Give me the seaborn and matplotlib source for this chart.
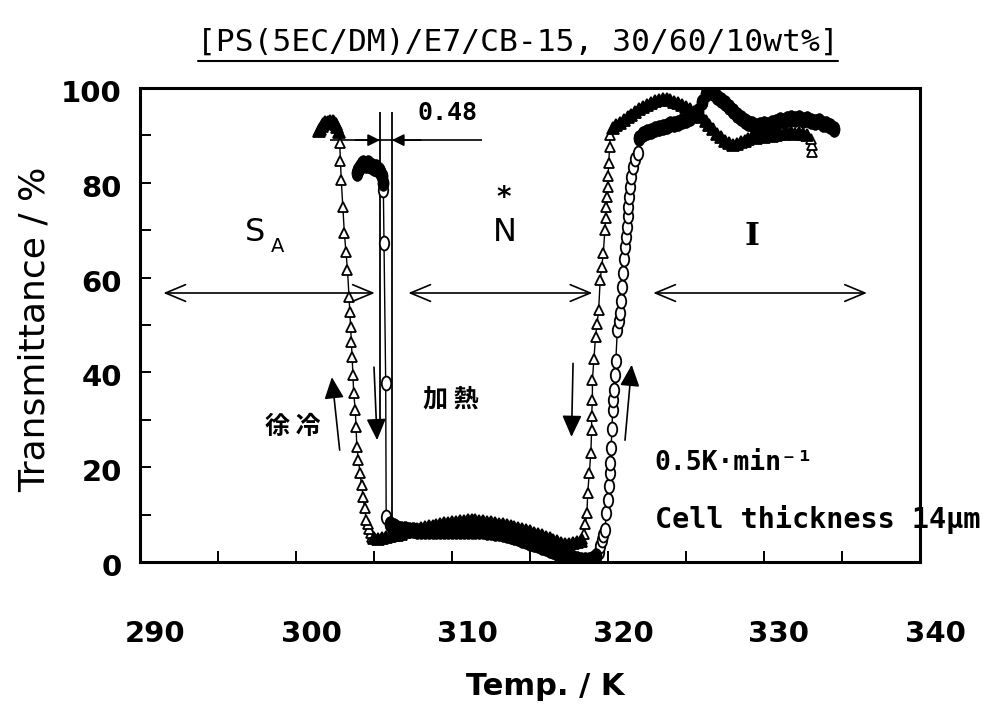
import matplotlib
matplotlib.use("Agg")
import matplotlib.pyplot as plt
import seaborn as sns
from matplotlib import font_manager
from matplotlib.font_manager import FontProperties
from matplotlib.path import Path
from matplotlib.transforms import ScaledTranslation, Affine2D
from matplotlib.lines import Line2D

# ---------------- data ----------------
# Cooling run (open triangles), in time order (temperature decreasing)
cool_I_T = [333.1, 333.05, 333.0, 332.75, 332.5, 332.25, 332.0, 331.75, 331.5, 331.25,
            331.0, 330.75, 330.5, 330.25, 330.0, 329.75, 329.5, 329.25, 329.0, 328.75,
            328.5, 328.25, 328.0, 327.75, 327.5, 327.25, 327.0, 326.75, 326.5, 326.25,
            326.0, 325.75, 325.5, 325.25, 325.0, 324.75, 324.5, 324.25, 324.0, 323.75,
            323.5, 323.25, 323.0, 322.75, 322.5, 322.25, 322.0, 321.75, 321.5, 321.25,
            321.0, 320.75, 320.5, 320.3]
cool_I_Tr = [86.5, 88.0, 89.2, 90.0, 90.3, 90.6, 90.4, 90.8, 90.5, 90.2,
             90.4, 90.0, 89.8, 90.1, 89.6, 89.9, 89.4, 89.6, 89.2, 88.8,
             88.6, 88.2, 88.0, 88.3, 88.9, 89.6, 90.4, 91.3, 92.2, 93.0,
             93.8, 94.4, 95.0, 95.5, 96.0, 96.4, 96.8, 97.1, 97.4, 97.6,
             97.6, 97.5, 97.3, 96.9, 96.4, 96.0, 95.5, 95.0, 94.4, 93.9,
             93.3, 92.7, 92.1, 91.5]
cool_IN_T = [320.15, 320.1, 320.05, 320.0, 320.0, 319.95, 319.9, 319.85, 319.8, 319.7,
             319.6, 319.5, 319.4, 319.3, 319.2, 319.1, 319.0, 319.0, 318.95, 318.95,
             318.9, 318.8, 318.7, 318.65, 318.55, 318.45, 318.35]
cool_IN_Tr = [90.0, 87.6, 84.2, 81.5, 79.1, 77.0, 74.9, 72.5, 70.0, 65.2,
              62.3, 59.5, 53.2, 50.3, 47.5, 42.8, 38.4, 34.2, 30.8, 27.8,
              23.0, 18.8, 14.6, 10.3, 8.0, 6.0, 4.8]
cool_N_T = [318.25, 318.0, 317.75, 317.5, 317.25, 317.0, 316.75, 316.5, 316.25, 316.0,
            315.75, 315.5, 315.25, 315.0, 314.75, 314.5, 314.25, 314.0, 313.75, 313.5,
            313.25, 313.0, 312.75, 312.5, 312.25, 312.0, 311.75, 311.5, 311.25, 311.0,
            310.75, 310.5, 310.25, 310.0, 309.75, 309.5, 309.25, 309.0, 308.75, 308.5,
            308.25, 308.0, 307.75, 307.5, 307.25, 307.0, 306.75, 306.5, 306.25, 306.0,
            305.75, 305.5, 305.25, 305.0]
cool_N_Tr = [4.5, 4.2, 4.0, 3.9, 3.9, 4.1, 4.4, 4.7, 5.0, 5.3,
             5.6, 5.9, 6.2, 6.5, 6.8, 7.0, 7.2, 7.4, 7.6, 7.8,
             8.0, 8.1, 8.3, 8.4, 8.5, 8.6, 8.7, 8.8, 8.8, 8.8,
             8.7, 8.6, 8.5, 8.4, 8.3, 8.2, 8.0, 7.9, 7.7, 7.5,
             7.3, 7.1, 6.9, 6.7, 6.5, 6.3, 6.0, 5.8, 5.6, 5.4,
             5.2, 5.0, 4.9, 5.0]
cool_NS_T = [304.9, 304.8, 304.7, 304.6, 304.5, 304.4, 304.3, 304.2, 304.1, 304.0,
             303.9, 303.85, 303.8, 303.7, 303.65, 303.6, 303.55, 303.5, 303.45, 303.4,
             303.3, 303.2, 303.1, 303.0, 302.9, 302.85, 302.8]
cool_NS_Tr = [5.3, 6.2, 7.0, 8.0, 8.9, 11.3, 13.7, 16.3, 18.8, 21.5,
              24.3, 28.5, 32.0, 35.6, 39.5, 43.2, 46.5, 49.6, 52.8, 55.9,
              61.6, 65.5, 69.4, 75.0, 80.6, 84.5, 88.4]
cool_S_T = [302.75, 302.65, 302.55, 302.45, 302.35, 302.25, 302.15, 302.05, 301.95, 301.85,
            301.75, 301.65, 301.55, 301.45]
cool_S_Tr = [90.8, 91.8, 92.5, 92.8, 93.0, 92.7, 93.1, 92.9, 92.6, 92.8,
             92.3, 91.9, 91.4, 90.9]

# Heating run (open circles), in time order (temperature increasing)
heat_S_T = [303.9, 304.0, 304.1, 304.2, 304.3, 304.4, 304.5, 304.6, 304.7, 304.8,
            304.9, 305.0, 305.1, 305.2, 305.3, 305.4, 305.5, 305.58]
heat_S_Tr = [82.0, 82.8, 83.4, 83.9, 84.2, 84.0, 83.7, 84.1, 83.8, 83.5,
             83.6, 83.2, 83.3, 82.9, 82.6, 82.2, 81.5, 80.0]
heat_SN_T = [305.6, 305.64, 305.75, 305.78]
heat_SN_Tr = [78.5, 67.3, 37.8, 9.5]
heat_N_T = [306.0, 306.25, 306.5, 306.75, 307.0, 307.25, 307.5, 307.75, 308.0, 308.25,
            308.5, 308.75, 309.0, 309.25, 309.5, 309.75, 310.0, 310.25, 310.5, 310.75,
            311.0, 311.25, 311.5, 311.75, 312.0, 312.25, 312.5, 312.75, 313.0, 313.25,
            313.5, 313.75, 314.0, 314.25, 314.5, 314.75, 315.0, 315.25, 315.5, 315.75,
            316.0, 316.25, 316.5, 316.75, 317.0, 317.25, 317.5, 317.75, 318.0, 318.25,
            318.5, 318.75, 319.0, 319.25]
heat_N_Tr = [8.0, 7.5, 7.2, 7.0, 6.9, 6.8, 6.7, 6.6, 6.6, 6.5,
             6.5, 6.5, 6.5, 6.5, 6.5, 6.5, 6.6, 6.6, 6.6, 6.6,
             6.6, 6.6, 6.6, 6.5, 6.5, 6.4, 6.3, 6.2, 6.1, 5.9,
             5.7, 5.5, 5.3, 5.0, 4.7, 4.4, 4.1, 3.8, 3.5, 3.2,
             2.9, 2.6, 2.3, 2.0, 1.7, 1.4, 1.1, 0.9, 0.7, 0.5,
             0.4, 0.4, 0.6, 1.2]
heat_NI_T = [319.4, 319.5, 319.6, 319.7, 319.8, 319.9, 320.0, 320.05, 320.1, 320.15,
             320.2, 320.25, 320.3, 320.35, 320.4, 320.45, 320.5, 320.6, 320.7, 320.8,
             320.85, 320.9, 320.95, 321.0, 321.1, 321.15, 321.2, 321.25, 321.3, 321.35,
             321.4, 321.5, 321.6, 321.75, 321.9]
heat_NI_Tr = [2.2, 3.3, 4.6, 5.7, 6.8, 10.3, 13.1, 16.0, 18.8, 20.9,
              24.0, 28.0, 32.0, 34.2, 36.3, 39.5, 42.5, 48.9, 50.8, 52.5,
              55.0, 58.0, 61.0, 64.0, 66.5, 68.5, 70.7, 73.0, 74.9, 77.0,
              79.1, 81.3, 83.3, 85.0, 86.3]
heat_I_T = [322.0, 322.25, 322.5, 322.75, 323.0, 323.25, 323.5, 323.75, 324.0, 324.25,
            324.5, 324.75, 325.0, 325.25, 325.5, 325.75, 326.0, 326.25, 326.5, 326.75,
            327.0, 327.25, 327.5, 327.75, 328.0, 328.25, 328.5, 328.75, 329.0, 329.25,
            329.5, 329.75, 330.0, 330.25, 330.5, 330.75, 331.0, 331.25, 331.5, 331.75,
            332.0, 332.25, 332.5, 332.75, 333.0, 333.25, 333.5, 333.75, 334.0, 334.25,
            334.5]
heat_I_Tr = [89.5, 90.4, 90.8, 91.0, 91.3, 91.5, 91.8, 92.0, 92.3, 92.5,
             92.7, 93.0, 93.3, 93.7, 94.2, 95.2, 97.0, 98.8, 99.4, 98.9,
             98.2, 97.5, 96.8, 96.0, 95.1, 94.3, 93.6, 93.0, 92.6, 92.3,
             92.0, 92.1, 92.4, 92.2, 92.7, 92.9, 93.2, 93.0, 93.5, 93.7,
             93.4, 93.6, 93.2, 93.5, 93.1, 92.8, 93.0, 92.5, 92.3, 91.9,
             91.4]

x_ticks = [290, 300, 310, 320, 330, 340]
x_minor = [295, 305, 315, 325, 335]
y_ticks = [0, 20, 40, 60, 80, 100]
y_minor = [10, 30, 50, 70, 90]

cool_T = cool_I_T + cool_IN_T + cool_N_T + cool_NS_T + cool_S_T
cool_Tr = cool_I_Tr + cool_IN_Tr + cool_N_Tr + cool_NS_Tr + cool_S_Tr
heat_T = heat_S_T + heat_SN_T + heat_N_T + heat_NI_T + heat_I_T
heat_Tr = heat_S_Tr + heat_SN_Tr + heat_N_Tr + heat_NI_Tr + heat_I_Tr
assert len(cool_T) == len(cool_Tr) and len(heat_T) == len(heat_Tr)

# plateaus, where the scanned markers merge into solid black bands
cool_dense_T = cool_I_T[3:] + cool_N_T + cool_S_T
cool_dense_Tr = cool_I_Tr[3:] + cool_N_Tr + cool_S_Tr
heat_dense_T = heat_S_T + heat_N_T + heat_I_T
heat_dense_Tr = heat_S_Tr + heat_N_Tr + heat_I_Tr

# ---------------- style ----------------
sns.set_theme(style="white")
plt.rcParams["font.family"] = ["DejaVu Sans", "Noto Sans CJK JP"]
plt.rcParams["text.color"] = "black"
plt.rcParams["axes.labelcolor"] = "black"
plt.rcParams["xtick.color"] = "black"
plt.rcParams["ytick.color"] = "black"


def has_font(name):
    try:
        font_manager.findfont(FontProperties(family=name), fallback_to_default=False)
        return True
    except Exception:
        return False


NARROW_OK = has_font("Liberation Sans Narrow")
NARROW = "Liberation Sans Narrow" if NARROW_OK else "DejaVu Sans"
tick_fs = 27 if NARROW_OK else 21
xlab_fs = 29 if NARROW_OK else 22

fig = plt.figure(figsize=(9.9, 7.13), dpi=100)
ax = fig.add_axes([140 / 990, 1 - 562 / 713, 780 / 990, 474 / 713])
ax.set_facecolor("white")

ellipse = Path.unit_circle().transformed(Affine2D().scale(0.68, 1.0))

sns.lineplot(x=cool_T, y=cool_Tr, sort=False, estimator=None, ax=ax,
             color="black", linewidth=1.0, marker="^", markersize=7.5,
             markerfacecolor="white", markeredgecolor="black",
             markeredgewidth=1.3, zorder=3)
sns.lineplot(x=heat_T, y=heat_Tr, sort=False, estimator=None, ax=ax,
             color="black", linewidth=1.0, marker=ellipse, markersize=10,
             markerfacecolor="white", markeredgecolor="black",
             markeredgewidth=1.3, zorder=3)
sns.lineplot(x=cool_dense_T, y=cool_dense_Tr, sort=False, estimator=None, ax=ax,
             color="black", linestyle="none", marker="^", markersize=8.5,
             markerfacecolor="black", markeredgecolor="black",
             markeredgewidth=1.3, zorder=4)
sns.lineplot(x=heat_dense_T, y=heat_dense_Tr, sort=False, estimator=None, ax=ax,
             color="black", linestyle="none", marker=ellipse, markersize=10.5,
             markerfacecolor="black", markeredgecolor="black",
             markeredgewidth=1.3, zorder=4)

ax.set_xlim(290, 340)
ax.set_ylim(0, 100)
ax.set_xticks(x_ticks, labels=[str(v) for v in x_ticks])
ax.set_xticks(x_minor, minor=True)
ax.set_yticks(y_ticks, labels=[str(v) for v in y_ticks])
ax.set_yticks(y_minor, minor=True)
ax.tick_params(which="both", direction="in", length=8, width=1.4, color="black",
               bottom=True, left=True, top=False, right=False)
ax.tick_params(axis="x", which="major", pad=42)
ax.tick_params(axis="y", which="major", pad=13)
for lab in ax.get_xticklabels() + ax.get_yticklabels():
    lab.set_fontfamily(NARROW)
    lab.set_fontweight("bold")
    lab.set_fontsize(tick_fs)
    lab.set_color("black")
for t in ax.xaxis.get_major_ticks():
    t.label1.set_transform(t.label1.get_transform()
                           + ScaledTranslation(15 / 100, 0, fig.dpi_scale_trans))
for t in ax.yaxis.get_major_ticks():
    t.label1.set_transform(t.label1.get_transform()
                           + ScaledTranslation(0, -3 / 100, fig.dpi_scale_trans))
for sp in ax.spines.values():
    sp.set_color("black")
    sp.set_linewidth(2.2)
ax.grid(False)

ax.set_xlabel("Temp. / K", fontsize=xlab_fs, fontfamily=NARROW, fontweight="bold",
              color="black")
ax.xaxis.set_label_coords(0.52, -0.232)
ax.set_ylabel("Transmittance / %", fontsize=26, color="black")
ax.yaxis.set_label_coords(-0.113, 0.49)

# title with underline
fig.text(518 / 990, 1 - 42 / 713, "[PS(5EC/DM)/E7/CB-15, 30/60/10wt%]",
         fontsize=22.5, family="DejaVu Sans Mono", ha="center", va="center",
         color="black")
fig.add_artist(Line2D([198 / 990, 838 / 990], [1 - 61 / 713, 1 - 61 / 713],
                      color="black", lw=1.5))

# phase labels
ax.text(297.4, 69.6, "S", fontsize=23, ha="center", va="center", color="black")
ax.text(298.8, 66.6, "A", fontsize=14, ha="center", va="center", color="black")
ax.text(313.4, 69.5, "N", fontsize=23, ha="center", va="center", color="black")
ax.text(313.3, 76.8, "*", fontsize=20, fontweight="bold", ha="center", va="center",
        color="black")
ax.text(329.2, 68.6, "I", fontsize=23, family="DejaVu Serif", fontweight="bold",
        ha="center", va="center", color="black")

# double-headed phase arrows
dbl = dict(arrowstyle="<->,head_length=1.2,head_width=0.5", lw=1.2, color="black",
           shrinkA=0, shrinkB=0)
for x0, x1 in [(291.5, 305.05), (307.2, 319.0), (322.9, 336.6)]:
    ax.annotate("", xy=(x1, 56.75), xytext=(x0, 56.75), arrowprops=dbl)

# direction arrows (filled heads)
sgl = dict(arrowstyle="-|>,head_length=1.1,head_width=0.5", lw=1.2, color="black",
           shrinkA=0, shrinkB=0)
for tail, head in [((302.8, 23.6), (302.3, 39.0)), ((305.0, 41.1), (305.2, 25.7)),
                   ((317.76, 41.9), (317.66, 26.4)), ((321.09, 25.7), (321.52, 41.6))]:
    ax.annotate("", xy=head, xytext=tail, arrowprops=sgl)

ax.text(299.8, 28.5, "徐 冷", fontsize=18, family="Noto Sans CJK JP", fontweight="bold",
        ha="center", va="center", color="black")
ax.text(309.9, 34.2, "加 熱", fontsize=18, family="Noto Sans CJK JP", fontweight="bold",
        ha="center", va="center", color="black")

# 0.48 K gap marker
ax.vlines(305.38, 28.5, 94.9, color="black", lw=1.3)
ax.vlines(306.15, 8.2, 94.9, color="black", lw=1.3)
ax.hlines(89.0, 302.2, 311.9, color="black", lw=1.2)
small = dict(arrowstyle="-|>,head_length=0.6,head_width=0.3", lw=1.2, color="black",
             shrinkA=0, shrinkB=0)
ax.annotate("", xy=(305.38, 89.0), xytext=(303.8, 89.0), arrowprops=small)
ax.annotate("", xy=(306.15, 89.0), xytext=(308.0, 89.0), arrowprops=small)
ax.text(309.7, 94.7, "0.48", fontsize=18, family="DejaVu Sans Mono", fontweight="bold",
        ha="center", va="center", color="black")

# conditions
ax.text(323.0, 20.9, "0.5K·min⁻¹", fontsize=19, family="DejaVu Sans Mono",
        fontweight="bold", ha="left", va="center", color="black")
ax.text(323.0, 8.9, "Cell thickness 14μm", fontsize=20.5, family="DejaVu Sans Mono",
        fontweight="bold", ha="left", va="center", color="black")

fig.savefig("out.png", dpi=100, facecolor="white")
